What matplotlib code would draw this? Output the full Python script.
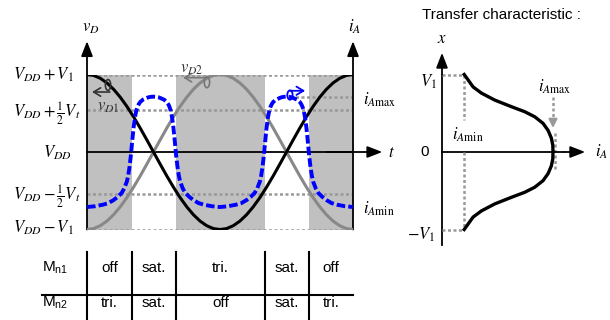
import matplotlib
matplotlib.use("Agg")
import matplotlib.pyplot as plt
from matplotlib.patches import Ellipse

plt.rcParams['mathtext.fontset'] = 'custom'
plt.rcParams['mathtext.rm'] = 'Liberation Sans'
plt.rcParams['mathtext.it'] = 'Liberation Sans:italic'
plt.rcParams['font.family'] = ['Liberation Sans', 'DejaVu Sans']

# ---------------- data ----------------
t_samples = [0.000, 0.025, 0.050, 0.075, 0.100, 0.125, 0.150, 0.175, 0.200, 0.225,
             0.250, 0.275, 0.300, 0.325, 0.350, 0.375, 0.400, 0.425, 0.450, 0.475,
             0.500, 0.525, 0.550, 0.575, 0.600, 0.625, 0.650, 0.675, 0.700, 0.725,
             0.750, 0.775, 0.800, 0.825, 0.850, 0.875, 0.900, 0.925, 0.950, 0.975, 1.000]
vD1 = [1.000, 0.988, 0.951, 0.891, 0.809, 0.707, 0.588, 0.454, 0.309, 0.156,
       0.000, -0.156, -0.309, -0.454, -0.588, -0.707, -0.809, -0.891, -0.951, -0.988,
       -1.000, -0.988, -0.951, -0.891, -0.809, -0.707, -0.588, -0.454, -0.309, -0.156,
       0.000, 0.156, 0.309, 0.454, 0.588, 0.707, 0.809, 0.891, 0.951, 0.988, 1.000]
vD2 = [-1.000, -0.988, -0.951, -0.891, -0.809, -0.707, -0.588, -0.454, -0.309, -0.156,
       0.000, 0.156, 0.309, 0.454, 0.588, 0.707, 0.809, 0.891, 0.951, 0.988,
       1.000, 0.988, 0.951, 0.891, 0.809, 0.707, 0.588, 0.454, 0.309, 0.156,
       0.000, -0.156, -0.309, -0.454, -0.588, -0.707, -0.809, -0.891, -0.951, -0.988, -1.000]

iA_t = [0.000, 0.030, 0.060, 0.080, 0.100, 0.115, 0.130, 0.140, 0.150, 0.155,
        0.160, 0.165, 0.170, 0.175, 0.180, 0.185, 0.190, 0.195, 0.200, 0.210,
        0.220, 0.230, 0.240, 0.250, 0.260, 0.270, 0.280, 0.290, 0.300, 0.305,
        0.310, 0.315, 0.320, 0.325, 0.330, 0.335, 0.340, 0.345, 0.350, 0.360,
        0.370, 0.385, 0.400, 0.420, 0.440, 0.470, 0.500,
        0.530, 0.560, 0.580, 0.600, 0.615, 0.630, 0.640, 0.650, 0.655,
        0.660, 0.665, 0.670, 0.675, 0.680, 0.685, 0.690, 0.695, 0.700, 0.710,
        0.720, 0.730, 0.740, 0.750, 0.760, 0.770, 0.780, 0.790, 0.800, 0.805,
        0.810, 0.815, 0.820, 0.825, 0.830, 0.835, 0.840, 0.845, 0.850, 0.860,
        0.870, 0.885, 0.900, 0.920, 0.940, 0.970, 1.000]
iA = [-0.71, -0.70, -0.68, -0.66, -0.62, -0.58, -0.53, -0.47, -0.38, -0.30,
      -0.19, -0.04, 0.14, 0.31, 0.44, 0.53, 0.585, 0.62, 0.645, 0.675,
      0.69, 0.705, 0.712, 0.714, 0.712, 0.705, 0.69, 0.675, 0.645, 0.62,
      0.585, 0.53, 0.44, 0.31, 0.14, -0.04, -0.19, -0.30, -0.38, -0.47,
      -0.53, -0.58, -0.62, -0.66, -0.68, -0.70, -0.71,
      -0.70, -0.68, -0.66, -0.62, -0.58, -0.53, -0.47, -0.38, -0.30,
      -0.19, -0.04, 0.14, 0.31, 0.44, 0.53, 0.585, 0.62, 0.645, 0.675,
      0.69, 0.705, 0.712, 0.714, 0.712, 0.705, 0.69, 0.675, 0.645, 0.62,
      0.585, 0.53, 0.44, 0.31, 0.14, -0.04, -0.19, -0.30, -0.38, -0.47,
      -0.53, -0.58, -0.62, -0.66, -0.68, -0.70, -0.71]

half_vt = 0.545      # V_DD +/- Vt/2 level
iA_max = 0.714
iA_min = -0.71

region_edges = [0.0, 0.17, 0.335, 0.67, 0.835, 1.0]
region_shaded = [True, False, True, False, True]
mn1_states = ['off', 'sat.', 'tri.', 'sat.', 'off']
mn2_states = ['tri.', 'sat.', 'off', 'sat.', 'tri.']

# transfer characteristic (x vs iA)
tc_x = [1.0, 0.93, 0.84, 0.76, 0.67, 0.585, 0.52, 0.455, 0.37, 0.28, 0.18, 0.09, 0.0,
        -0.09, -0.18, -0.28, -0.37, -0.455, -0.52, -0.585, -0.67, -0.76, -0.84, -0.93, -1.0]
tc_iA = [0.20, 0.235, 0.28, 0.355, 0.475, 0.625, 0.745, 0.835, 0.91, 0.955, 0.985, 0.998, 1.0,
         0.998, 0.985, 0.955, 0.91, 0.835, 0.745, 0.625, 0.475, 0.355, 0.28, 0.235, 0.20]
tc_min = 0.20
tc_max = 1.0

# ---------------- figure ----------------
W, H = 610, 320
fig = plt.figure(figsize=(W / 100, H / 100), dpi=100)

ax = fig.add_axes([87 / W, (H - 229.5) / H, 266 / W, 155 / H])
ax.set_xlim(0, 1)
ax.set_ylim(-1, 1)
ax.axis('off')

GRAY_BAND = '#c0c0c0'
DOT = '#999999'
dot_ls = (0, (1.2, 1.0))

for (a, b), sh in zip(zip(region_edges[:-1], region_edges[1:]), region_shaded):
    if sh:
        ax.axvspan(a, b, ymin=0, ymax=1, color=GRAY_BAND, lw=0, zorder=0)

for lev in [1.0, half_vt, -half_vt, -1.0]:
    ax.plot([0, 1], [lev, lev], color=DOT, lw=1.8, ls=dot_ls, zorder=1)
ax.plot([0.765, 1.0], [iA_max, iA_max], color=DOT, lw=1.8, ls=dot_ls, zorder=1)

arrow_kw = dict(arrowstyle='-|>,head_length=0.9,head_width=0.35', lw=1.3, color='black',
                shrinkA=0, shrinkB=0, mutation_scale=10)
ax.plot([0, 1.0], [0, 0], color='black', lw=1.3, zorder=2, clip_on=False)
ax.annotate('', xy=(1.11, 0), xytext=(0.9, 0), arrowprops=arrow_kw, annotation_clip=False)
for xx in [0, 1]:
    ax.annotate('', xy=(xx, 1.43), xytext=(xx, -1.0), arrowprops=arrow_kw, annotation_clip=False)

ax.plot(t_samples, vD2, color='#888888', lw=2.2, zorder=3, solid_capstyle='butt')
ax.plot(t_samples, vD1, color='black', lw=2.2, zorder=4, solid_capstyle='butt')
ax.plot(iA_t, iA, color='#0000ff', lw=2.8, dashes=(2.2, 0.8), zorder=5, clip_on=False)

# small loop markers
ax.add_patch(Ellipse((0.079, 0.865), 0.02, 0.14, angle=0, fill=False, ec='#333333', lw=1.2, zorder=6))
ax.annotate('', xy=(0.019, 0.774), xytext=(0.086, 0.774),
            arrowprops=dict(arrowstyle='->,head_length=0.5,head_width=0.3', lw=1.2, color='#333333',
                            shrinkA=0, shrinkB=0, mutation_scale=10))
ax.add_patch(Ellipse((0.451, 0.90), 0.02, 0.14, angle=0, fill=False, ec='#777777', lw=1.2, zorder=6))
ax.annotate('', xy=(0.361, 0.959), xytext=(0.451, 0.959),
            arrowprops=dict(arrowstyle='->,head_length=0.5,head_width=0.3', lw=1.2, color='#777777',
                            shrinkA=0, shrinkB=0, mutation_scale=10))
ax.add_patch(Ellipse((0.763, 0.735), 0.02, 0.12, angle=0, fill=False, ec='#0000ff', lw=1.3, zorder=6))
ax.annotate('', xy=(0.82, 0.79), xytext=(0.763, 0.79),
            arrowprops=dict(arrowstyle='->,head_length=0.5,head_width=0.3', lw=1.3, color='#0000ff',
                            shrinkA=0, shrinkB=0, mutation_scale=10))

mk = dict(math_fontfamily='stix', fontsize=12)
ax.text(-0.278, 0.93, r'$V_{DD}+V_1$', ha='left', va='baseline', **mk)
ax.text(-0.278, 0.45, r'$V_{DD}+\frac{1}{2}V_t$', ha='left', va='baseline', **mk)
ax.text(-0.165, -0.077, r'$V_{DD}$', ha='left', va='baseline', **mk)
ax.text(-0.278, -0.62, r'$V_{DD}-\frac{1}{2}V_t$', ha='left', va='baseline', **mk)
ax.text(-0.278, -1.045, r'$V_{DD}-V_1$', ha='left', va='baseline', **mk)

ax.text(-0.019, 1.55, r'$v_D$', ha='left', va='baseline', **mk)
ax.text(0.981, 1.55, r'$i_A$', ha='left', va='baseline', **mk)
ax.text(1.13, -0.065, r'$t$', ha='left', va='baseline', **mk)
ax.text(1.038, 0.61, r'$i_{A\mathrm{max}}$', ha='left', va='baseline', **mk)
ax.text(1.038, -0.79, r'$i_{A\mathrm{min}}$', ha='left', va='baseline', **mk)
ax.text(0.038, 0.54, r'$v_{D1}$', ha='left', va='baseline', color='#333333', zorder=7, **mk)
ax.text(0.35, 1.03, r'$v_{D2}$', ha='left', va='baseline', color='#333333', **mk)

# table
ax.plot([-0.169, 1.0], [-1.845, -1.845], color='black', lw=1.5, clip_on=False)
for e in region_edges[:-1]:
    ax.plot([e, e], [-1.29, -2.2], color='black', lw=1.5, clip_on=False)
ax.text(-0.12, -1.497, r'$\mathrm{M}_{\mathrm{n1}}$', ha='center', va='center', fontsize=11)
ax.text(-0.12, -1.948, r'$\mathrm{M}_{\mathrm{n2}}$', ha='center', va='center', fontsize=11)
for (a, b), s1, s2 in zip(zip(region_edges[:-1], region_edges[1:]), mn1_states, mn2_states):
    ax.text((a + b) / 2, -1.497, s1, ha='center', va='center', fontsize=11)
    ax.text((a + b) / 2, -1.948, s2, ha='center', va='center', fontsize=11)

# ---------------- transfer characteristic ----------------
ax2 = fig.add_axes([442 / W, (H - 229.5) / H, 111 / W, 155 / H])
ax2.set_xlim(0, 1)
ax2.set_ylim(-1, 1)
ax2.axis('off')

ax2.plot([0, 0], [-1.2, 1.0], color='black', lw=1.3, clip_on=False)
ax2.annotate('', xy=(0, 1.28), xytext=(0, 1.0), arrowprops=arrow_kw, annotation_clip=False)
ax2.plot([0, 1.1], [0, 0], color='black', lw=1.3, clip_on=False)
ax2.annotate('', xy=(1.29, 0), xytext=(1.1, 0), arrowprops=arrow_kw, annotation_clip=False)

for lev in [1.0, -1.0]:
    ax2.plot([0, tc_min], [lev, lev], color=DOT, lw=1.8, ls=dot_ls, clip_on=False)
ax2.plot([tc_min, tc_min], [1.0, 0.41], color=DOT, lw=1.8, ls=dot_ls)
ax2.plot([tc_min, tc_min], [0.0, -1.0], color=DOT, lw=1.8, ls=dot_ls)
ax2.plot([tc_max, tc_max], [0.71, 0.36], color=DOT, lw=1.8, ls=dot_ls, clip_on=False)
ax2.annotate('', xy=(tc_max, 0.31), xytext=(tc_max, 0.38),
             arrowprops=dict(arrowstyle='-|>,head_length=0.5,head_width=0.25', lw=1.5, color=DOT,
                             shrinkA=0, shrinkB=0, mutation_scale=10))
ax2.plot([1.02, 1.02], [0.245, -0.23], color=DOT, lw=1.8, ls=dot_ls, clip_on=False, zorder=1)
ax2.plot(tc_iA, tc_x, color='black', lw=2.4, clip_on=False, zorder=3)

ax2.text(0, 1.41, r'$x$', ha='center', va='baseline', **mk)
ax2.text(-0.045, 0.84, r'$V_1$', ha='right', va='baseline', **mk)
ax2.text(-0.06, -1.135, r'$-V_1$', ha='right', va='baseline', **mk)
ax2.text(-0.153, 0, '0', ha='center', va='center', fontsize=11)
ax2.text(1.38, -0.06, r'$i_A$', ha='left', va='baseline', **mk)
ax2.text(0.865, 0.774, r'$i_{A\mathrm{max}}$', ha='left', va='baseline', **mk)
ax2.text(0.09, 0.155, r'$i_{A\mathrm{min}}$', ha='left', va='baseline', **mk)

fig.text(422 / W, 1 - 15 / H, 'Transfer characteristic :', ha='left', va='center', fontsize=11)

fig.savefig('out.png', dpi=100)
